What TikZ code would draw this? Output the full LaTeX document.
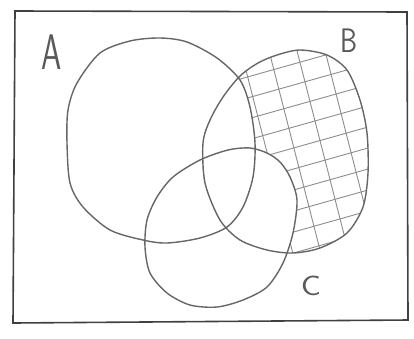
\documentclass[tikz,border=0pt]{standalone}
\usepackage{tikz}
\usetikzlibrary{calc}

\begin{document}
\begin{tikzpicture}[
  x=1pt,y=-1pt,
  venn/.style={draw=black!60,line width=1.4pt,line join=round},
  hatch/.style={draw=black!45,line width=0.9pt},
  frame/.style={draw=black!75,line width=1.6pt},
  lbl/.style={text=black!65,font=\sffamily,inner sep=0pt}
]
\useasboundingbox (0,0) rectangle (414,338);
\def\setA{plot[smooth cycle] coordinates {(160,38) (187,42) (217,58) (240,80) (250,107) (255,143) (253,177) (243,207) (227,227) (200,238) (167,243) (143,240) (110,230) (83,207) (70,183) (67,143) (68,110) (77,83) (100,53) (130,41)}}
\def\setB{plot[smooth cycle] coordinates {(300,50) (327,55) (347,70) (360,100) (367,133) (368,173) (363,207) (347,233) (320,248) (293,253) (267,250) (240,240) (220,220) (205,183) (203,143) (210,120) (223,97) (240,76) (258,63) (277,55)}}
\def\setC{plot[smooth cycle] coordinates {(250,148) (267,153) (280,162) (290,177) (297,200) (293,233) (283,263) (267,287) (243,300) (217,307) (190,305) (167,293) (150,273) (145,247) (147,220) (157,197) (173,177) (200,160) (228,150)}}
\begin{scope}
  \clip \setB;
  \foreach \i in {-5,...,4}
    \draw[hatch] (284+28*\i,0) -- ++(84,328);
  \foreach \j in {-5,...,9}
    \draw[hatch] (180,117+21*\j) -- ++(220,-62);
  \fill[white] \setA;
  \fill[white] \setC;
\end{scope}
\draw[frame] (15,11) -- (407,12) -- (408,320) -- (13,323) -- cycle;
\draw[venn] \setA;
\draw[venn] \setB;
\draw[venn] \setC;
\node[lbl,xscale=0.65,font=\sffamily\fontsize{50}{50}\selectfont] (labA) at (52,52) {A};
\node[lbl,xscale=0.8,font=\sffamily\fontsize{34}{34}\selectfont] (labB) at (349,41) {B};
\node[lbl,xscale=1.2,font=\sffamily\fontsize{28}{28}\selectfont] (labC) at (311,286) {C};
\end{tikzpicture}
\end{document}
